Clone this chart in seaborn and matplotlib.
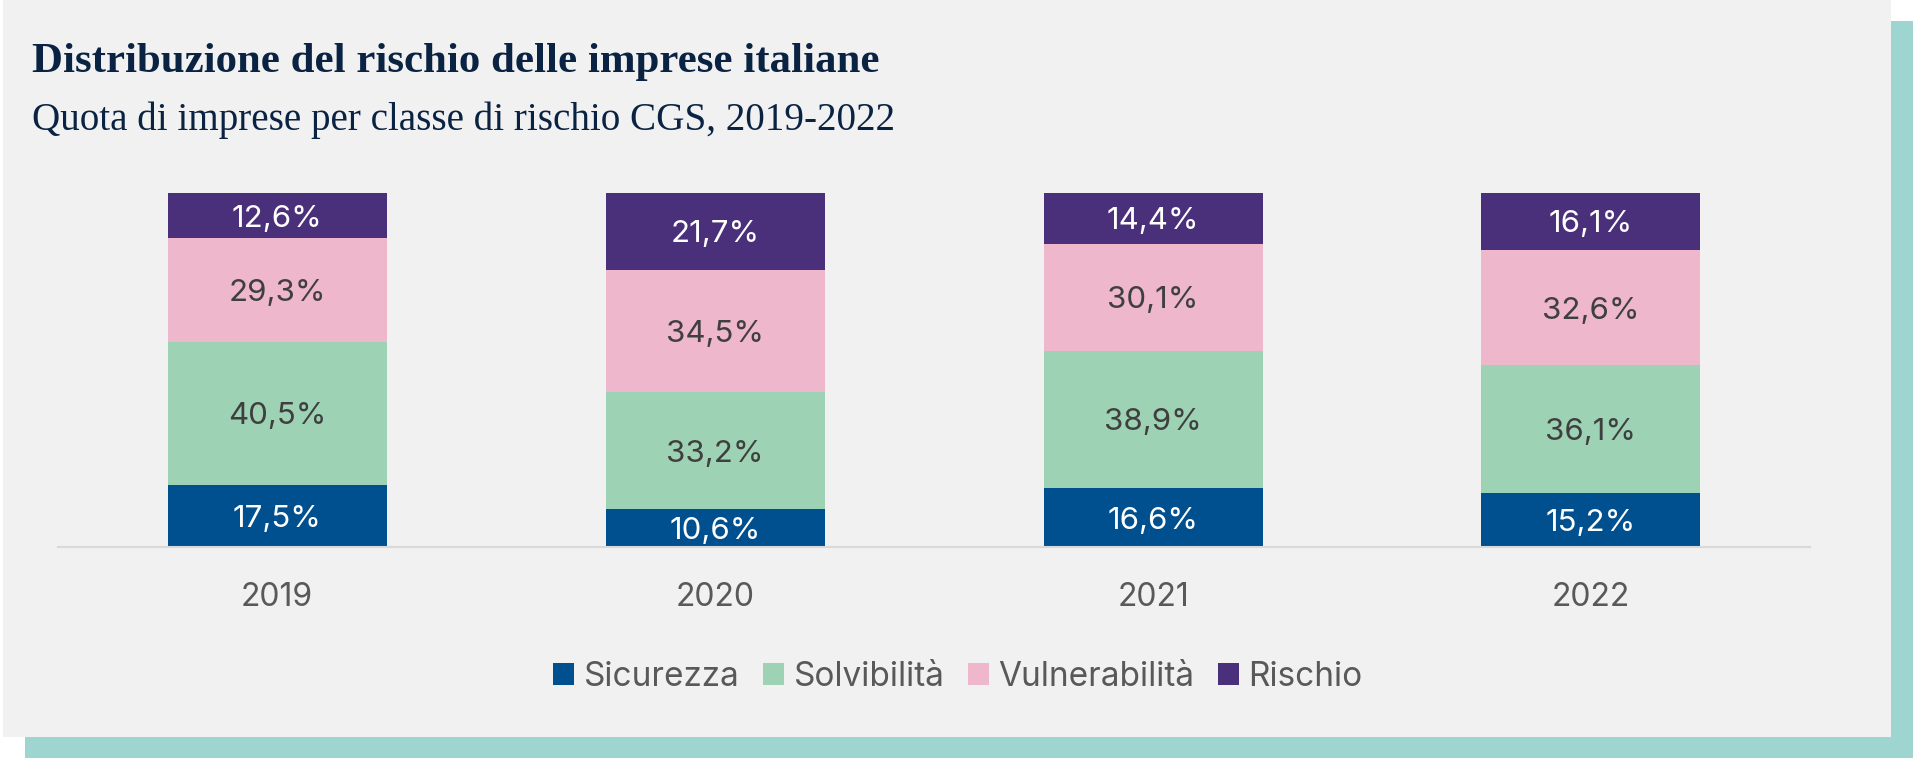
import numpy as np
import pandas as pd
import seaborn as sns
import matplotlib.pyplot as plt
from matplotlib.patches import Rectangle, Patch

anni = ['2019', '2020', '2021', '2022']
classi = ['Sicurezza', 'Solvibilità', 'Vulnerabilità', 'Rischio']
sicurezza = [17.5, 10.6, 16.6, 15.2]
solvibilita = [40.5, 33.2, 38.9, 36.1]
vulnerabilita = [29.3, 34.5, 30.1, 32.6]
rischio = [12.6, 21.7, 14.4, 16.1]

colori = ['#00508f', '#9dd3b4', '#eeb7cb', '#4a2f7a']
col_testo = ['white', '#3f3f3f', '#3f3f3f', 'white']

sns.set_theme(style='white')
plt.rcParams['font.family'] = ['Inter', 'DejaVu Sans']

df = pd.DataFrame({'anno': anni, 'Sicurezza': sicurezza, 'Solvibilità': solvibilita,
                   'Vulnerabilità': vulnerabilita, 'Rischio': rischio})
cum = df[classi].cumsum(axis=1)

fig = plt.figure(figsize=(19.2, 7.64), dpi=100)
fig.patch.set_facecolor('white')

# cornice: ombra teal + pannello grigio
fig.patches.append(Rectangle((25 / 1920, 1 - 758 / 764), (1913 - 25) / 1920, (758 - 21) / 764,
                             transform=fig.transFigure, facecolor='#9fd5d1', edgecolor='none', zorder=-3))
fig.patches.append(Rectangle((3 / 1920, 1 - 737 / 764), (1891 - 3) / 1920, 737 / 764,
                             transform=fig.transFigure, facecolor='#f1f1f1', edgecolor='none', zorder=-2))

ax = fig.add_axes([58 / 1920, 1 - 547 / 764, 1752 / 1920, 354 / 764])
ax.set_facecolor('none')
ax.set_zorder(2)

# barre impilate: si disegnano i cumulati dal più alto al più basso
for i in range(len(classi) - 1, -1, -1):
    sns.barplot(x=df['anno'], y=cum[classi[i]], color=colori[i], width=0.5,
                saturation=1, edgecolor='none', linewidth=0, ax=ax)

for j in range(len(anni)):
    base = 0
    for i, c in enumerate(classi):
        v = df[c].iloc[j]
        ax.text(j, base + v / 2, f'{v:.1f}%'.replace('.', ','), ha='center', va='center_baseline',
                fontsize=22.5, color=col_testo[i])
        base += v

ax.set_xlim(-0.5, 3.5)
ax.set_ylim(0, 100)
ax.set_xlabel('')
ax.set_ylabel('')
ax.set_yticks([])
for s in ['top', 'right', 'left']:
    ax.spines[s].set_visible(False)
ax.spines['bottom'].set_color('#d9d9d9')
ax.spines['bottom'].set_linewidth(1.5)
ax.tick_params(axis='x', length=0, pad=25, labelsize=23, labelcolor='#595959')

fig.text(32 / 1920, 1 - 72 / 764, 'Distribuzione del rischio delle imprese italiane',
         family='Liberation Serif', fontweight='bold', fontsize=30.9, color='#0a2342', va='baseline')
fig.text(32 / 1920, 1 - 130 / 764, 'Quota di imprese per classe di rischio CGS, 2019-2022',
         family='Liberation Serif', fontsize=28.2, color='#0a2342', va='baseline')

handles = [Patch(facecolor=colori[i], edgecolor='none', label=classi[i]) for i in range(len(classi))]
fig.legend(handles=handles, loc='center', bbox_to_anchor=(958 / 1920, 1 - 677 / 764), ncol=4,
           frameon=False, fontsize=24, labelcolor='#595959', handlelength=0.62, handleheight=0.62,
           handletextpad=0.3, columnspacing=0.7)

fig.savefig('out.png', dpi=100)
